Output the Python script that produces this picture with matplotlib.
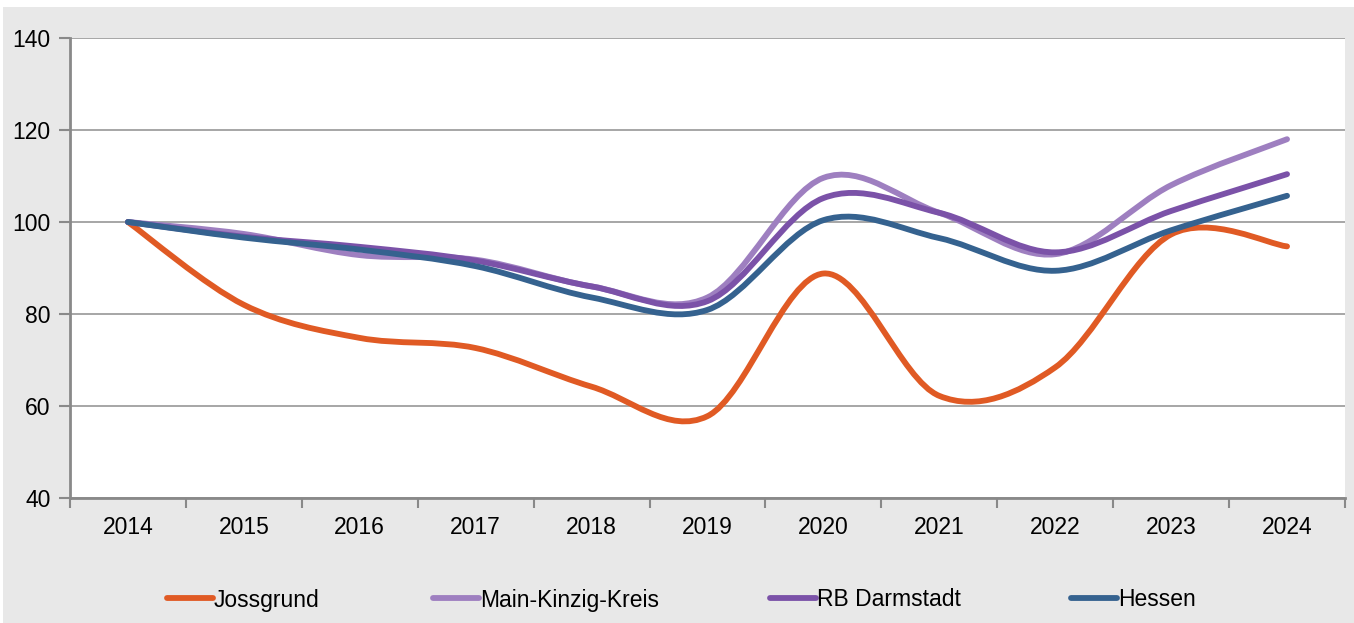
import matplotlib
matplotlib.use("Agg")
import matplotlib.pyplot as plt
from matplotlib.path import Path
from matplotlib.patches import PathPatch, Rectangle
from matplotlib.lines import Line2D

plt.rcParams['font.family'] = ['Liberation Sans', 'DejaVu Sans']

years = ['2014', '2015', '2016', '2017', '2018', '2019', '2020', '2021', '2022', '2023', '2024']
jossgrund = [100, 82, 74.8, 72.6, 64.2, 57.8, 88.8, 62.2, 68.4, 97.3, 94.7]
main_kinzig = [100, 97.4, 92.8, 91.8, 86.0, 83.6, 109.6, 102.0, 93.0, 108.0, 118.0]
rb_darmstadt = [100, 96.8, 94.6, 91.6, 86.0, 82.8, 105.2, 102.0, 93.4, 102.4, 110.4]
hessen = [100, 96.6, 94.0, 90.4, 83.6, 80.9, 100.4, 96.5, 89.4, 98.2, 105.7]

names = ['Jossgrund', 'Main-Kinzig-Kreis', 'RB Darmstadt', 'Hessen']
colors = ['#e05a24', '#9e7fc0', '#7b52a8', '#35628f']
series = [jossgrund, main_kinzig, rb_darmstadt, hessen]


def smooth_path(xs, ys):
    # excel-like smoothed line: cubic bezier through each point
    n = len(xs)
    verts = [(xs[0], ys[0])]
    codes = [Path.MOVETO]
    for i in range(n - 1):
        x0, y0 = (xs[i - 1], ys[i - 1]) if i > 0 else (xs[i], ys[i])
        x1, y1 = xs[i], ys[i]
        x2, y2 = xs[i + 1], ys[i + 1]
        x3, y3 = (xs[i + 2], ys[i + 2]) if i + 2 < n else (x2, y2)
        c1 = (x1 + (x2 - x0) / 6, y1 + (y2 - y0) / 6)
        c2 = (x2 - (x3 - x1) / 6, y2 - (y3 - y1) / 6)
        verts += [c1, c2, (x2, y2)]
        codes += [Path.CURVE4] * 3
    return Path(verts, codes)


W, H = 1354, 623
fig = plt.figure(figsize=(W / 100, H / 100), dpi=100, facecolor='white')
fig.patches.append(Rectangle((3 / W, 0), 1, 1 - 7 / H, transform=fig.transFigure,
                             facecolor='#e8e8e8', edgecolor='none', zorder=-10))

ax = fig.add_axes([70 / W, 125 / H, 1275 / W, 460 / H])
ax.set_facecolor('white')

xs = list(range(len(years)))
for name, col, ys in zip(names, colors, series):
    patch = PathPatch(smooth_path(xs, ys), facecolor='none', edgecolor=col, lw=4.2,
                      capstyle='round', joinstyle='round', zorder=3)
    ax.add_patch(patch)

ax.set_xlim(-0.5, len(years) - 0.5)
ax.set_ylim(40, 140)
ax.set_yticks([40, 60, 80, 100, 120, 140])
ax.yaxis.grid(True, color='#a6a6a6', lw=1.4)
ax.set_axisbelow(True)

ax.set_xticks(xs)
ax.set_xticklabels(years)
ax.set_xticks([i - 0.5 for i in range(len(years) + 1)], minor=True)
ax.tick_params(axis='x', which='major', length=0, pad=13, labelsize=16.5, colors='black')
ax.tick_params(axis='x', which='minor', length=7, width=1.5, color='#898989')
ax.tick_params(axis='y', length=8, width=1.5, color='#898989', pad=6, labelsize=16.5)

for s in ['top', 'right']:
    ax.spines[s].set_visible(False)
for s in ['left', 'bottom']:
    ax.spines[s].set_color('#898989')
    ax.spines[s].set_linewidth(2)

# legend entries placed like the excel legend
leg_x = [167, 433, 770, 1071]
for name, col, lx in zip(names, colors, leg_x):
    h = Line2D([], [], color=col, lw=4.2, solid_capstyle='round')
    fig.legend([h], [name], loc='center left', bbox_to_anchor=(lx / W, 1 - 600 / H),
               frameon=False, borderpad=0, borderaxespad=0, handlelength=2.0,
               handletextpad=0.05, fontsize=16.5)

fig.savefig('out.png', dpi=100, facecolor=fig.get_facecolor())
